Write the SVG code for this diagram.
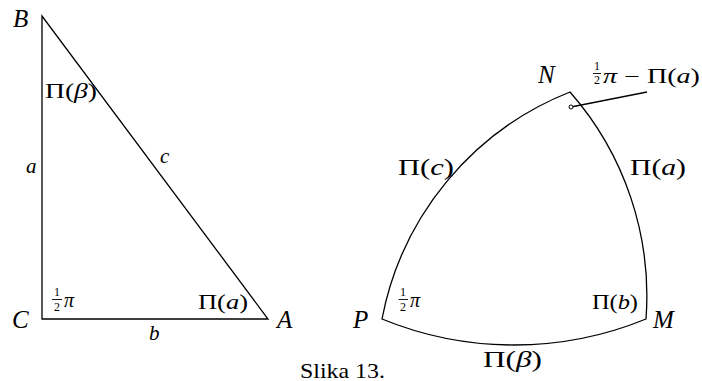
<svg xmlns="http://www.w3.org/2000/svg" width="702" height="381" viewBox="0 0 702 381" font-family="'Liberation Serif', 'Times New Roman', Times, serif">
<style>
.ln{fill:none;stroke:#000;stroke-width:1.3;stroke-linejoin:miter}
text{font-family:'Liberation Serif','Times New Roman',Times,serif;fill:#000}
.i{font-style:italic}
.big{font-size:25px;font-style:italic}
.fr{font-size:12px}
</style>
<rect width="702" height="381" fill="#fff"/>
<g id="triangle">
<path class="ln" d="M42,16 L42,319 L268,319 Z"/>
</g>
<g id="curved-triangle">
<path class="ln" d="M382,319 A306,306 0 0 1 570,92 A309,309 0 0 1 646,319 A348,348 0 0 1 382,319 Z"/>
</g>
<g id="connectors">
<line class="ln" x1="571" y1="107" x2="647" y2="92" stroke-width="1.1"/>
<circle cx="571" cy="107" r="2" fill="#fff" stroke="#000" stroke-width="1"/>
</g>
<g id="labels-left">
<text class="big" x="13" y="27" font-family="Liberation Serif">B</text>
<text class="big" x="12" y="328" font-family="Liberation Serif">C</text>
<text class="big" x="277" y="328" font-family="Liberation Serif">A</text>
<text x="45" y="98" font-size="21" textLength="52" lengthAdjust="spacingAndGlyphs" font-family="Liberation Serif">Π(<tspan class="i">β</tspan>)</text>
<text class="i" x="26" y="173" font-size="21" font-family="Liberation Serif">a</text>
<text class="i" x="160" y="163" font-size="21" font-family="Liberation Serif">c</text>
<text class="i" x="149" y="340" font-size="21" font-family="Liberation Serif">b</text>
<text x="198" y="309" font-size="21" textLength="50" lengthAdjust="spacingAndGlyphs" font-family="Liberation Serif">Π(<tspan class="i">a</tspan>)</text>
<text class="fr" x="57" y="296" text-anchor="middle" font-family="Liberation Serif">1</text>
<line x1="52" y1="299.5" x2="62" y2="299.5" stroke="#000" stroke-width="0.9"/>
<text class="fr" x="57" y="311" text-anchor="middle" font-family="Liberation Serif">2</text>
<text class="i" x="64" y="307" font-size="20" font-family="Liberation Serif">π</text>
</g>
<g id="labels-right">
<text class="big" x="538" y="83" font-family="Liberation Serif">N</text>
<text class="big" x="353" y="328" font-family="Liberation Serif">P</text>
<text class="big" x="653" y="328" font-family="Liberation Serif">M</text>
<text class="fr" x="597" y="70" text-anchor="middle" font-size="11" font-family="Liberation Serif">1</text>
<line x1="593" y1="73.5" x2="601" y2="73.5" stroke="#000" stroke-width="0.9"/>
<text class="fr" x="597" y="84" text-anchor="middle" font-size="11" font-family="Liberation Serif">2</text>
<text x="603" y="83" font-size="20" textLength="97" lengthAdjust="spacingAndGlyphs" font-family="Liberation Serif"><tspan class="i">π</tspan> − Π(<tspan class="i">a</tspan>)</text>
<text x="398" y="175" font-size="23" textLength="56" lengthAdjust="spacingAndGlyphs" font-family="Liberation Serif">Π(<tspan class="i">c</tspan>)</text>
<text x="630" y="175" font-size="23" textLength="56" lengthAdjust="spacingAndGlyphs" font-family="Liberation Serif">Π(<tspan class="i">a</tspan>)</text>
<text class="fr" x="403" y="296" text-anchor="middle" font-family="Liberation Serif">1</text>
<line x1="398.5" y1="299.5" x2="408" y2="299.5" stroke="#000" stroke-width="0.9"/>
<text class="fr" x="403" y="311" text-anchor="middle" font-family="Liberation Serif">2</text>
<text class="i" x="410" y="307" font-size="20" font-family="Liberation Serif">π</text>
<text x="592" y="309" font-size="20" textLength="46" lengthAdjust="spacingAndGlyphs" font-family="Liberation Serif">Π(<tspan class="i">b</tspan>)</text>
<text x="483" y="367" font-size="23" textLength="59" lengthAdjust="spacingAndGlyphs" font-family="Liberation Serif">Π(<tspan class="i">β</tspan>)</text>
</g>
<g id="caption">
<text x="300" y="377.5" font-size="21" textLength="85" lengthAdjust="spacingAndGlyphs" font-family="Liberation Serif">Slika 13.</text>
</g>
</svg>
